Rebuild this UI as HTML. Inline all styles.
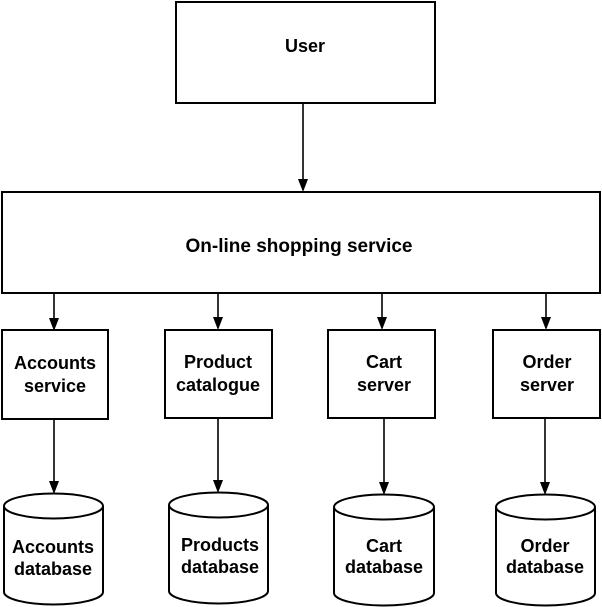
<!DOCTYPE html>
<html><head><style>body{margin:0;background:#fff}svg{display:block}text{font-family:"Liberation Sans",Arial,sans-serif;font-weight:bold;font-size:18px;fill:#000;text-anchor:middle}</style></head><body>
<svg width="602" height="607" viewBox="0 0 602 607" xmlns="http://www.w3.org/2000/svg">
<g stroke="#000" stroke-width="2" fill="#fff">
<rect x="176" y="2" width="259" height="101"/>
<rect x="2" y="192" width="598" height="101"/>
<rect x="2" y="330" width="106" height="89"/>
<rect x="165" y="330" width="107" height="88"/>
<rect x="328" y="330" width="107" height="88"/>
<rect x="493" y="330" width="107" height="88"/>
</g>
<g stroke="#000" stroke-width="1.6">
<line x1="303" y1="103" x2="303" y2="182"/>
<line x1="54" y1="293" x2="54" y2="321"/>
<line x1="218" y1="293" x2="218" y2="320"/>
<line x1="382" y1="293" x2="382" y2="320"/>
<line x1="546" y1="293" x2="546" y2="320"/>
<line x1="54" y1="419" x2="54" y2="484"/>
<line x1="218" y1="418" x2="218" y2="483"/>
<line x1="384" y1="418" x2="384" y2="485"/>
<line x1="545" y1="418" x2="545" y2="485"/>
</g>
<g fill="#000">
<path d="M298,179 L308,179 L303,192 Z"/>
<path d="M49,318 L59,318 L54,331 Z"/>
<path d="M213,317 L223,317 L218,330 Z"/>
<path d="M377,317 L387,317 L382,330 Z"/>
<path d="M541,317 L551,317 L546,330 Z"/>
<path d="M49,481 L59,481 L54,494 Z"/>
<path d="M213,480 L223,480 L218,493 Z"/>
<path d="M379,482 L389,482 L384,495 Z"/>
<path d="M540,482 L550,482 L545,495 Z"/>
</g>
<g stroke="#000" stroke-width="2" fill="#fff">
<path d="M4,506 A49.5,12.5 0 0 1 103,506 L103,592 A49.5,12.5 0 0 1 4,592 Z"/><path d="M4,506 A49.5,12.5 0 0 0 103,506" fill="none"/>
<path d="M169,505 A49.5,12.5 0 0 1 268,505 L268,591 A49.5,12.5 0 0 1 169,591 Z"/><path d="M169,505 A49.5,12.5 0 0 0 268,505" fill="none"/>
<path d="M334,507 A50,12.5 0 0 1 434,507 L434,593 A50,12.5 0 0 1 334,593 Z"/><path d="M334,507 A50,12.5 0 0 0 434,507" fill="none"/>
<path d="M496,507 A49.5,12.5 0 0 1 595,507 L595,593 A49.5,12.5 0 0 1 496,593 Z"/><path d="M496,507 A49.5,12.5 0 0 0 595,507" fill="none"/>
</g>
<text x="305" y="52">User</text>
<text x="299" y="252" style="font-size:19px">On-line shopping service</text>
<text x="55" y="369">Accounts</text><text x="55" y="392">service</text>
<text x="218" y="368">Product</text><text x="218" y="391">catalogue</text>
<text x="384" y="368">Cart</text><text x="384" y="391">server</text>
<text x="547" y="368">Order</text><text x="547" y="391">server</text>
<text x="53" y="553">Accounts</text><text x="53" y="575">database</text>
<text x="220" y="551">Products</text><text x="220" y="573">database</text>
<text x="384" y="552">Cart</text><text x="384" y="573">database</text>
<text x="545" y="552">Order</text><text x="545" y="573">database</text>
</svg>
</body></html>
